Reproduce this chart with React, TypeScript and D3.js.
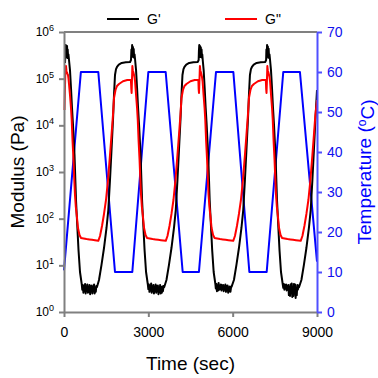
import React, { useEffect, useRef } from 'react'
import * as d3 from 'd3'

const timeTicks = [0, 3000, 6000, 9000]
const modulusTicks = [1, 10, 100, 1000, 10000, 100000, 1000000]
const tempTicks = [0, 10, 20, 30, 40, 50, 60, 70]

// temperature program (sec, degC)
const temperature: [number, number][] = [
  [0, 10.4], [600, 60], [1220, 60], [1814, 10], [2430, 10], [3000, 60], [3617, 60], [4222, 10],
  [4800, 10], [5407, 60], [6024, 60], [6594, 10], [7210, 10], [7800, 60], [8393, 60], [9000, 12.6],
]

// G' (sec, Pa)
const gPrime: [number, number][] = [
  [36, 217000], [50, 380000], [62, 526000], [72, 310000], [84, 470000], [96, 290000], [108, 500000], [120, 277000],
  [132, 420000], [144, 300000], [158, 330000], [178, 251000], [213, 153000], [249, 63100], [285, 23500], [320, 10200],
  [374, 2310], [427, 251], [462, 93.6], [516, 21.3], [569, 7.2], [630, 3.98],
  [650, 3.0], [670, 3.8], [690, 2.6], [710, 3.5], [730, 2.8], [750, 4.0], [770, 2.5], [790, 3.4], [810, 2.9], [830, 3.9],
  [850, 2.6], [870, 3.3], [890, 2.7], [910, 3.8], [930, 2.4], [950, 3.5], [970, 2.8], [990, 3.7], [1010, 2.5], [1030, 3.4],
  [1050, 2.9], [1070, 3.9], [1090, 2.5], [1110, 3.3], [1130, 2.7], [1150, 3.6], [1170, 3.4],
  [1245, 4.85], [1334, 10.2], [1423, 23.5], [1512, 63.1], [1576, 153], [1636, 674], [1690, 2960], [1743, 13000],
  [1779, 44700], [1814, 120000], [1850, 160000], [1885, 178000], [1950, 200000], [2053, 217000], [2200, 224000],
  [2350, 228000], [2383, 251000],
  [2398, 420000], [2410, 300000], [2424, 526000], [2438, 330000], [2452, 480000], [2466, 290000], [2480, 430000],
  [2494, 280000], [2510, 330000], [2530, 251000],
  [2563, 153000], [2599, 63100], [2635, 23500], [2670, 10200], [2724, 2310], [2777, 251], [2812, 93.6], [2866, 21.3],
  [2919, 7.2], [2980, 3.98],
  [3000, 3.1], [3020, 3.9], [3040, 2.7], [3060, 3.6], [3080, 2.9], [3100, 4.1], [3120, 2.6], [3140, 3.5], [3160, 3.0],
  [3180, 3.8], [3200, 2.5], [3220, 3.4], [3240, 2.8], [3260, 3.9], [3280, 2.6], [3300, 3.6], [3320, 2.9], [3340, 3.7],
  [3360, 2.4], [3380, 3.3], [3400, 2.7], [3420, 3.8], [3440, 2.5], [3460, 3.4], [3480, 2.6], [3500, 3.5], [3520, 2.8],
  [3540, 3.6], [3563, 3.4],
  [3645, 4.85], [3734, 10.2], [3823, 23.5], [3912, 63.1], [3976, 153], [4036, 674], [4090, 2960], [4143, 13000],
  [4179, 44700], [4214, 120000], [4250, 160000], [4285, 178000], [4350, 200000], [4453, 217000], [4600, 224000],
  [4760, 228000], [4790, 251000],
  [4800, 400000], [4812, 526000], [4826, 310000], [4838, 500000], [4852, 290000], [4866, 470000], [4880, 300000],
  [4894, 420000], [4908, 280000], [4920, 330000], [4935, 251000],
  [4968, 153000], [5004, 63100], [5040, 23500], [5075, 10200], [5129, 2310], [5182, 251], [5217, 93.6], [5271, 21.3],
  [5324, 7.2], [5385, 3.98],
  [5400, 3.2], [5420, 4.0], [5440, 2.8], [5460, 3.7], [5480, 2.9], [5500, 4.2], [5520, 3.0], [5540, 3.6], [5560, 3.1],
  [5580, 3.9], [5600, 2.9], [5620, 3.7], [5640, 3.2], [5660, 3.8], [5680, 2.8], [5700, 3.5], [5720, 3.1], [5740, 3.9],
  [5760, 2.7], [5780, 3.6], [5800, 2.9], [5820, 3.7], [5840, 2.6], [5860, 3.4], [5880, 2.8], [5900, 3.5], [5920, 2.7],
  [5940, 3.3], [5963, 3.5],
  [6045, 4.85], [6134, 10.2], [6223, 23.5], [6312, 63.1], [6376, 153], [6436, 674], [6490, 2960], [6543, 13000],
  [6579, 44700], [6614, 120000], [6650, 160000], [6685, 178000], [6750, 200000], [6853, 217000], [7000, 224000],
  [7160, 228000], [7190, 251000],
  [7200, 420000], [7212, 300000], [7224, 526000], [7238, 320000], [7252, 490000], [7266, 280000], [7280, 440000],
  [7294, 290000], [7310, 330000], [7330, 251000],
  [7363, 153000], [7399, 63100], [7435, 23500], [7470, 10200], [7524, 2310], [7577, 251], [7612, 93.6], [7666, 21.3],
  [7719, 7.2], [7780, 3.98],
  [7800, 3.3], [7820, 4.0], [7840, 3.0], [7860, 3.8], [7880, 3.2], [7900, 3.9], [7920, 2.9], [7940, 3.6], [7960, 3.1],
  [7980, 3.8], [8000, 2.3], [8020, 3.4], [8040, 2.2], [8060, 3.9], [8080, 3.0], [8100, 4.1], [8120, 2.1], [8140, 3.3],
  [8160, 2.2], [8180, 4.0], [8200, 2.9], [8220, 3.9], [8240, 2.0], [8260, 3.2], [8280, 2.3], [8300, 3.8], [8320, 3.0],
  [8340, 3.7], [8360, 3.4],
  [8445, 4.85], [8534, 10.2], [8623, 23.5], [8712, 63.1], [8776, 153], [8836, 674], [8890, 2960], [8943, 13000],
  [9000, 57200],
]

// G'' (sec, Pa)
const gDouble: [number, number][] = [
  [18, 21300], [30, 50000], [45, 120000], [60, 165000], [71, 187000], [85, 150000], [100, 139000], [120, 128000],
  [142, 120000], [160, 100000], [178, 76900], [213, 44700], [249, 23500], [274, 13000], [305, 4500], [338, 1810],
  [365, 700], [391, 321], [420, 180], [452, 120], [498, 63.1], [551, 44.7], [605, 38.5], [700, 37.5], [800, 36.5],
  [900, 35.9], [1000, 35.2], [1100, 34.6], [1220, 33.5],
  [1281, 42.5], [1352, 69.7], [1423, 126], [1494, 251], [1565, 674], [1636, 2310], [1690, 6210], [1743, 16700],
  [1779, 38500], [1832, 57200], [1885, 69700], [1956, 76900], [2099, 88000], [2250, 93600], [2380, 94000],
  [2395, 60000], [2405, 49300], [2415, 80000], [2432, 187000], [2448, 150000], [2465, 139000], [2485, 125000],
  [2505, 110000], [2530, 85000],
  [2563, 44700], [2599, 23500], [2624, 13000], [2655, 4500], [2688, 1810], [2715, 700], [2741, 321], [2770, 180],
  [2802, 120], [2848, 63.1], [2901, 44.7], [2955, 38.5], [3050, 37.5], [3150, 36.5], [3250, 35.9], [3350, 35.2],
  [3450, 34.6], [3620, 33.5],
  [3681, 42.5], [3752, 69.7], [3823, 126], [3894, 251], [3965, 674], [4036, 2310], [4090, 6210], [4143, 16700],
  [4179, 38500], [4232, 57200], [4285, 69700], [4356, 76900], [4499, 88000], [4650, 93600], [4780, 94000],
  [4790, 60000], [4802, 49300], [4815, 80000], [4835, 187000], [4850, 150000], [4867, 139000], [4887, 125000],
  [4907, 110000], [4932, 85000],
  [4965, 44700], [5001, 23500], [5026, 13000], [5057, 4500], [5090, 1810], [5117, 700], [5143, 321], [5172, 180],
  [5204, 120], [5250, 63.1], [5303, 44.7], [5357, 38.5], [5450, 37.5], [5550, 36.5], [5650, 35.9], [5750, 35.2],
  [5850, 34.6], [6020, 33.5],
  [6081, 42.5], [6152, 69.7], [6223, 126], [6294, 251], [6365, 674], [6436, 2310], [6490, 6210], [6543, 16700],
  [6579, 38500], [6632, 57200], [6685, 69700], [6756, 76900], [6899, 88000], [7050, 93600], [7180, 94000],
  [7192, 60000], [7204, 49300], [7216, 80000], [7234, 187000], [7250, 150000], [7267, 139000], [7287, 125000],
  [7307, 110000], [7332, 85000],
  [7365, 44700], [7401, 23500], [7426, 13000], [7457, 4500], [7490, 1810], [7517, 700], [7543, 321], [7572, 180],
  [7604, 120], [7650, 63.1], [7703, 44.7], [7757, 38.5], [7850, 37.5], [7950, 36.5], [8050, 35.9], [8150, 35.2],
  [8250, 34.6], [8420, 33.5],
  [8481, 42.5], [8552, 69.7], [8623, 126], [8694, 251], [8765, 674], [8836, 2310], [8890, 6210], [8943, 16700],
  [9000, 34900],
]

const FONT = '"Liberation Sans", Arial, sans-serif'
const GREY = '#808080'
const BLUE = '#0000ff'
const AXIS_BLUE = '#5050ff'

export default function App() {
  const ref = useRef<SVGSVGElement>(null)

  useEffect(() => {
    const svg = d3.select(ref.current)
    svg.selectAll('*').remove()

    const margin = { left: 64, top: 32, right: 61, bottom: 66 }
    const width = 378 - margin.left - margin.right
    const height = 378 - margin.top - margin.bottom

    const x = d3.scaleLinear().domain([0, 9000]).range([0, width])
    const yMod = d3.scaleLog().domain([1, 1e6]).range([height, 0])
    const yTemp = d3.scaleLinear().domain([0, 70]).range([height, 0])

    const g = svg.append('g').attr('transform', `translate(${margin.left},${margin.top})`)

    // data lines
    const tempLine = d3.line<[number, number]>().x(d => x(d[0])).y(d => yTemp(d[1]))
    const modLine = d3.line<[number, number]>().x(d => x(d[0])).y(d => yMod(d[1]))

    g.append('path').datum(temperature).attr('d', tempLine)
      .attr('fill', 'none').attr('stroke', BLUE).attr('stroke-width', 2).attr('stroke-linejoin', 'round')
    g.append('path').datum(gPrime).attr('d', modLine)
      .attr('fill', 'none').attr('stroke', '#000').attr('stroke-width', 2).attr('stroke-linejoin', 'round')
    g.append('path').datum(gDouble).attr('d', modLine)
      .attr('fill', 'none').attr('stroke', '#ff0000').attr('stroke-width', 2).attr('stroke-linejoin', 'round')

    // top frame
    g.append('line').attr('x1', 0).attr('x2', width).attr('y1', 0).attr('y2', 0)
      .attr('stroke', GREY).attr('stroke-width', 2)

    // left axis
    const left = g.append('g')
      .call(d3.axisLeft(yMod).tickValues(modulusTicks).tickSize(5).tickSizeOuter(0).tickFormat(() => ''))
    left.select('.domain').attr('stroke', GREY).attr('stroke-width', 2)
    left.selectAll('.tick line').attr('stroke', GREY).attr('stroke-width', 2)
    left.selectAll<SVGGElement, number>('.tick').each(function (d) {
      const t = d3.select(this).append('text')
        .attr('x', -10).attr('dy', '0.35em').attr('text-anchor', 'end')
        .style('font-family', FONT).style('fill', '#000')
      t.append('tspan').style('font-size', '12px').text('10')
      t.append('tspan').attr('dy', '-0.55em').style('font-size', '9px').text(String(Math.round(Math.log10(d))))
    })

    // bottom axis
    const bottom = g.append('g').attr('transform', `translate(0,${height})`)
      .call(d3.axisBottom(x).tickValues(timeTicks).tickSize(5).tickSizeOuter(0).tickPadding(10).tickFormat(d3.format('d')))
    bottom.select('.domain').attr('stroke', GREY).attr('stroke-width', 2)
    bottom.selectAll('.tick line').attr('stroke', GREY).attr('stroke-width', 2)
    bottom.selectAll('text').style('font-family', FONT).style('font-size', '14px').style('fill', '#000')

    // right axis
    const right = g.append('g').attr('transform', `translate(${width},0)`)
      .call(d3.axisRight(yTemp).tickValues(tempTicks).tickSize(5).tickSizeOuter(0).tickPadding(5))
    right.select('.domain').attr('stroke', AXIS_BLUE).attr('stroke-width', 2)
    right.selectAll('.tick line').attr('stroke', AXIS_BLUE).attr('stroke-width', 2)
    right.selectAll('text').style('font-family', FONT).style('font-size', '14px').style('fill', '#1010ee')

    // axis titles
    svg.append('text')
      .attr('transform', `translate(24,${margin.top + height / 2}) rotate(-90)`)
      .attr('text-anchor', 'middle')
      .style('font-family', FONT).style('font-size', '19px').style('fill', '#000')
      .text('Modulus (Pa)')
    svg.append('text')
      .attr('x', margin.left + width / 2).attr('y', 370)
      .attr('text-anchor', 'middle')
      .style('font-family', FONT).style('font-size', '19px').style('fill', '#000')
      .text('Time (sec)')
    const rt = svg.append('text')
      .attr('transform', `translate(371,${margin.top + height / 2}) rotate(-90)`)
      .attr('text-anchor', 'middle')
      .style('font-family', FONT).style('font-size', '19px').style('fill', BLUE)
    rt.append('tspan').text('Temperature (')
    rt.append('tspan').attr('dy', '-0.45em').style('font-size', '12px').text('o')
    rt.append('tspan').attr('dy', '0.45em').text('C)')

    // legend
    const legend = [
      { label: "G'", color: '#000', x: 107 },
      { label: 'G"', color: '#ff0000', x: 225 },
    ]
    legend.forEach(l => {
      svg.append('line').attr('x1', l.x).attr('x2', l.x + 32).attr('y1', 19).attr('y2', 19)
        .attr('stroke', l.color).attr('stroke-width', 2)
      svg.append('text').attr('x', l.x + 40).attr('y', 24)
        .style('font-family', FONT).style('font-size', '14px').style('fill', '#000')
        .text(l.label)
    })
  }, [])

  return (
    <svg ref={ref} width={378} height={378} style={{ position: 'absolute', left: 0, top: 0, background: '#fff' }} />
  )
}
